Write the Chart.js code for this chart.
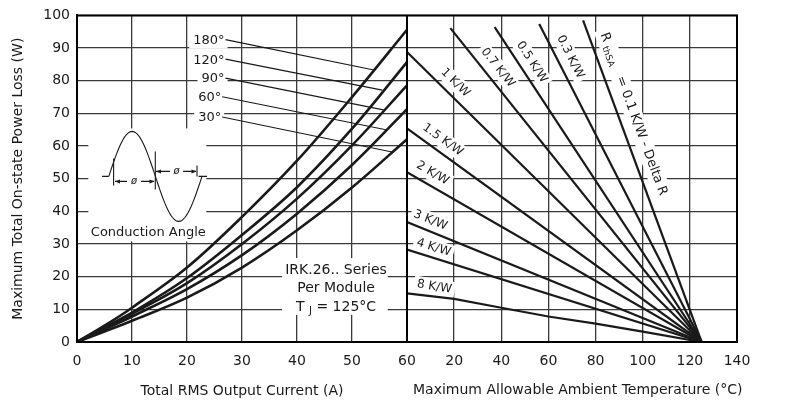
<!DOCTYPE html>
<html>
<head>
<meta charset="utf-8">
<script src="https://cdn.jsdelivr.net/npm/chart.js@4.4.1/dist/chart.umd.min.js"></script>
<style>
  html, body { margin: 0; padding: 0; background: #fff; }
  #wrap { width: 792px; height: 404px; position: relative; }
</style>
</head>
<body>
<div id="wrap"><canvas id="lossChart"></canvas></div>
<script>
// left panel: conduction angle curves, total RMS current (A) -> power loss (W)
const currentA = [0, 5, 10, 20, 30, 40, 50, 60];
const angleLabels = ['180°', '120°', '90°', '60°', '30°'];
const loss180 = [0, 5.0, 10.5, 22.8, 38.3, 55.5, 75.0, 95.6];
const loss120 = [0, 4.5, 9.0, 19.6, 32.8, 47.4, 65.3, 85.7];
const loss90 = [0, 4.2, 8.6, 18.0, 30.0, 43.9, 60.2, 78.6];
const loss60 = [0, 3.9, 7.8, 16.2, 26.6, 39.3, 54.2, 71.3];
const loss30 = [0, 3.2, 6.5, 13.6, 22.8, 34.2, 47.3, 62.1];

// right panel: heatsink lines, ambient temperature (°C) -> power loss (W)
const rthLabels = ['0.1 K/W', '0.3 K/W', '0.5 K/W', '0.7 K/W', '1 K/W', '1.5 K/W', '2 K/W', '3 K/W', '4 K/W', '8 K/W'];
const rthStartTemp = [74.7, 56.1, 37.2, 18.4, 0, 0, 0, 0, 0, 0];
const rthStartLoss = [98.5, 97.4, 96.4, 96.1, 88.8, 65.4, 52.0, 36.7, 28.3, 14.9];
const junctionTemp = 125;
// 8 K/W is not quite straight
const rth8Temp = [0, 20, 40, 60, 80, 100, 125];
const rth8Loss = [14.9, 13.2, 10.5, 7.8, 5.6, 3.2, 0];

const FONT = '"DejaVu Sans", sans-serif';
const INK = '#1a1a1a';
const GRID = '#3a3a3a';

// label placement (data units of each panel)
const angleNotes = [
    { text: '180°', at: [27.0, 92.6], tip: [54.2, 83.2] },
    { text: '120°', at: [27.0, 86.6], tip: [55.5, 77.1] },
    { text: '90°', at: [27.0, 80.8], tip: [55.7, 71.1] },
    { text: '60°', at: [26.4, 75.1], tip: [56.4, 64.9] },
    { text: '30°', at: [26.4, 68.9], tip: [57.5, 58.1] },
];
const rthNotes = [
    null,
    [69.3, 87.3], [53.0, 85.7], [38.5, 84.0], [20.5, 79.4],
    [15.2, 61.9], [10.9, 51.7], [9.9, 37.3], [11.3, 28.9], [11.6, 16.9],
];
const rthMainAt = [83.4, 94.6];

const angleSeries = [loss180, loss120, loss90, loss60, loss30];
const angleSets = angleSeries.map((vals, i) => ({
    label: angleLabels[i],
    data: vals.map((v, k) => ({ x: currentA[k], y: v })),
    xAxisID: 'xA',
    borderColor: INK,
    borderWidth: 2.6,
    tension: 0.35,
    pointRadius: 0,
}));

const thermalSets = rthLabels.map((lbl, i) => {
    const pts = lbl === '8 K/W'
        ? rth8Temp.map((t, k) => ({ x: t, y: rth8Loss[k] }))
        : [{ x: rthStartTemp[i], y: rthStartLoss[i] }, { x: junctionTemp, y: 0 }];
    return {
        label: lbl,
        data: pts,
        xAxisID: 'xT',
        borderColor: INK,
        borderWidth: 2.2,
        tension: 0,
        pointRadius: 0,
    };
});

function rthAngle(chart, i) {
    const xT = chart.scales.xT, y = chart.scales.y;
    const x1 = xT.getPixelForValue(rthStartTemp[i]), y1 = y.getPixelForValue(rthStartLoss[i]);
    const x2 = xT.getPixelForValue(junctionTemp), y2 = y.getPixelForValue(0);
    return Math.atan2(y2 - y1, x2 - x1);
}

function arrowHead(ctx, x, y, dir) {
    ctx.beginPath();
    ctx.moveTo(x, y);
    ctx.lineTo(x - 5 * dir, y - 2);
    ctx.lineTo(x - 5 * dir, y + 2);
    ctx.closePath();
    ctx.fill();
}

function drawWaveform(ctx, ox, oy) {
    const base = oy + 161;
    ctx.save();
    ctx.strokeStyle = INK;
    ctx.fillStyle = INK;
    ctx.lineWidth = 1.1;
    // baseline stubs
    ctx.beginPath();
    ctx.moveTo(ox + 25, base); ctx.lineTo(ox + 31.8, base);
    ctx.moveTo(ox + 121.6, base); ctx.lineTo(ox + 130, base);
    ctx.stroke();
    // one sine period
    ctx.beginPath();
    const x0 = ox + 31.8, per = 93.2;
    for (let k = 0; k <= 60; k++) {
        const px = x0 + per * k / 60;
        const py = base - 45 * Math.sin(2 * Math.PI * k / 60);
        if (k === 0) ctx.moveTo(px, py); else ctx.lineTo(px, py);
    }
    ctx.stroke();
    // firing markers
    ctx.beginPath();
    ctx.moveTo(ox + 36.6, oy + 143); ctx.lineTo(ox + 36.6, oy + 170);
    ctx.moveTo(ox + 78.3, oy + 136); ctx.lineTo(ox + 78.3, oy + 174);
    ctx.moveTo(ox + 120, oy + 150); ctx.lineTo(ox + 120, oy + 161);
    ctx.stroke();
    // dimension lines
    ctx.beginPath();
    ctx.moveTo(ox + 38, oy + 166); ctx.lineTo(ox + 50, oy + 166);
    ctx.moveTo(ox + 64, oy + 166); ctx.lineTo(ox + 77, oy + 166);
    ctx.moveTo(ox + 79, oy + 156); ctx.lineTo(ox + 93, oy + 156);
    ctx.moveTo(ox + 106, oy + 156); ctx.lineTo(ox + 119, oy + 156);
    ctx.stroke();
    arrowHead(ctx, ox + 38, oy + 166, -1);
    arrowHead(ctx, ox + 77.5, oy + 166, 1);
    arrowHead(ctx, ox + 79, oy + 156, -1);
    arrowHead(ctx, ox + 119.5, oy + 156, 1);
    ctx.font = 'italic 10px ' + FONT;
    ctx.textAlign = 'center';
    ctx.textBaseline = 'middle';
    ctx.fillText('ø', ox + 57, oy + 166);
    ctx.fillText('ø', ox + 99.5, oy + 156);
    ctx.font = '13px ' + FONT;
    ctx.fillText('Conduction Angle', ox + 71.3, oy + 217.7);
    ctx.restore();
}

const notesPlugin = {
    id: 'notes',
    beforeDatasetsDraw(chart) {
        const { ctx, chartArea } = chart;
        const xA = chart.scales.xA, xT = chart.scales.xT, y = chart.scales.y;
        ctx.save();
        ctx.fillStyle = '#fff';
        ctx.font = '13px ' + FONT;
        angleNotes.forEach(n => {
            const px = xA.getPixelForValue(n.at[0]), py = y.getPixelForValue(n.at[1]);
            const w = ctx.measureText(n.text).width;
            ctx.fillRect(px - w - 5, py - 9, w + 7, 18);
        });
        // waveform box
        ctx.fillRect(chartArea.left + 11.3, chartArea.top + 113, 118, 113);
        // series text box
        ctx.fillRect(xA.getPixelForValue(37.3), y.getPixelForValue(25.7),
            xA.getPixelForValue(56.5) - xA.getPixelForValue(37.3),
            y.getPixelForValue(8.3) - y.getPixelForValue(25.7));
        // rotated label boxes on the right
        ctx.font = '12px ' + FONT;
        rthNotes.forEach((at, i) => {
            if (!at) return;
            const w = ctx.measureText(rthLabels[i]).width;
            ctx.save();
            ctx.translate(xT.getPixelForValue(at[0]), y.getPixelForValue(at[1]));
            ctx.rotate(rthAngle(chart, i));
            ctx.fillRect(-w / 2 - 3, -8, w + 6, 16);
            ctx.restore();
        });
        ctx.save();
        ctx.translate(xT.getPixelForValue(rthMainAt[0]), y.getPixelForValue(rthMainAt[1]));
        ctx.rotate(rthAngle(chart, 0));
        ctx.fillRect(-4, -9, 170, 18);
        ctx.restore();
        ctx.restore();
    },
    afterDatasetsDraw(chart) {
        const { ctx, chartArea } = chart;
        const xA = chart.scales.xA, xT = chart.scales.xT, y = chart.scales.y;
        ctx.save();
        ctx.fillStyle = INK;
        ctx.strokeStyle = INK;
        // angle labels with leaders
        ctx.font = '13px ' + FONT;
        ctx.textAlign = 'right';
        ctx.textBaseline = 'middle';
        ctx.lineWidth = 1.2;
        angleNotes.forEach(n => {
            const px = xA.getPixelForValue(n.at[0]), py = y.getPixelForValue(n.at[1]);
            ctx.fillText(n.text, px - 1, py + 1);
            ctx.beginPath();
            ctx.moveTo(px, py);
            ctx.lineTo(xA.getPixelForValue(n.tip[0]), y.getPixelForValue(n.tip[1]));
            ctx.stroke();
        });
        drawWaveform(ctx, chartArea.left, chartArea.top);
        // series block
        const cx = xA.getPixelForValue(47.1), cy = y.getPixelForValue(22.0);
        ctx.font = '14px ' + FONT;
        ctx.textAlign = 'center';
        ctx.fillText('IRK.26.. Series', cx, cy);
        ctx.fillText('Per Module', cx, cy + 18.5);
        const pieces = [['T ', 14, 0], ['J', 10, 4], [' = 125°C', 14, 0]];
        let total = 0;
        pieces.forEach(p => { ctx.font = p[1] + 'px ' + FONT; total += ctx.measureText(p[0]).width; });
        let sx = cx - total / 2;
        ctx.textAlign = 'left';
        pieces.forEach(p => {
            ctx.font = p[1] + 'px ' + FONT;
            ctx.fillText(p[0], sx, cy + 37.5 + p[2]);
            sx += ctx.measureText(p[0]).width;
        });
        // heatsink labels
        ctx.font = '12px ' + FONT;
        ctx.textAlign = 'center';
        rthNotes.forEach((at, i) => {
            if (!at) return;
            ctx.save();
            ctx.translate(xT.getPixelForValue(at[0]), y.getPixelForValue(at[1]));
            ctx.rotate(rthAngle(chart, i));
            ctx.fillText(rthLabels[i], 0, 0);
            ctx.restore();
        });
        ctx.save();
        ctx.translate(xT.getPixelForValue(rthMainAt[0]), y.getPixelForValue(rthMainAt[1]));
        ctx.rotate(rthAngle(chart, 0));
        ctx.textAlign = 'left';
        ctx.font = '13px ' + FONT;
        ctx.fillText('R', 0, 0);
        let off = ctx.measureText('R').width + 4;
        ctx.font = '9px ' + FONT;
        ctx.fillText('thSA', off, 4);
        off += ctx.measureText('thSA').width + 12;
        ctx.font = '13px ' + FONT;
        ctx.fillText('= 0.1 K/W - Delta R', off, 0);
        ctx.restore();
        // frame and panel divider
        ctx.lineWidth = 2;
        ctx.strokeStyle = '#000';
        ctx.strokeRect(chartArea.left, chartArea.top, chartArea.right - chartArea.left, chartArea.bottom - chartArea.top);
        ctx.beginPath();
        ctx.moveTo(xA.right, chartArea.top);
        ctx.lineTo(xA.right, chartArea.bottom);
        ctx.stroke();
        // axis titles
        ctx.font = '14px ' + FONT;
        ctx.fillStyle = INK;
        ctx.textBaseline = 'middle';
        ctx.textAlign = 'center';
        ctx.fillText('Total RMS Output Current (A)', (xA.left + xA.right) / 2, 391);
        ctx.textAlign = 'left';
        ctx.fillText('Maximum Allowable Ambient Temperature (°C)', xT.left + 6, 390);
        ctx.restore();
    }
};

const gridOpts = { color: GRID, lineWidth: 1.3, drawTicks: false };
const xTickBase = { padding: 11, color: INK, font: { size: 14, family: FONT }, maxRotation: 0, minRotation: 0, autoSkip: false };

new Chart(document.getElementById('lossChart'), {
    type: 'line',
    data: { datasets: [...angleSets, ...thermalSets] },
    options: {
        responsive: true,
        maintainAspectRatio: false,
        animation: false,
        layout: { padding: { top: 14, right: 55, bottom: 0, left: 0 } },
        plugins: { legend: { display: false }, tooltip: { enabled: false } },
        scales: {
            xA: {
                type: 'linear',
                position: 'bottom',
                stack: 'panels',
                stackWeight: 1,
                min: 0,
                max: 60,
                grid: gridOpts,
                border: { display: true, color: '#000', width: 2 },
                ticks: { ...xTickBase, stepSize: 10 },
                afterFit(s) { s.height = 62; },
            },
            xT: {
                type: 'linear',
                position: 'bottom',
                stack: 'panels',
                stackWeight: 1,
                min: 0,
                max: 140,
                grid: gridOpts,
                border: { display: true, color: '#000', width: 2 },
                ticks: { ...xTickBase, stepSize: 20, callback: v => (v === 0 ? '' : v) },
                afterFit(s) { s.height = 62; },
            },
            y: {
                min: 0,
                max: 100,
                grid: gridOpts,
                border: { display: true, color: '#000', width: 2 },
                ticks: { stepSize: 10, padding: 7, color: INK, font: { size: 14, family: FONT } },
                title: {
                    display: true,
                    text: 'Maximum Total On-state Power Loss (W)',
                    color: INK,
                    font: { size: 14, family: FONT },
                    padding: { top: 10, bottom: 0 },
                },
                afterFit(s) { s.width = 77; },
            },
        },
    },
    plugins: [notesPlugin],
});
</script>
</body>
</html>
